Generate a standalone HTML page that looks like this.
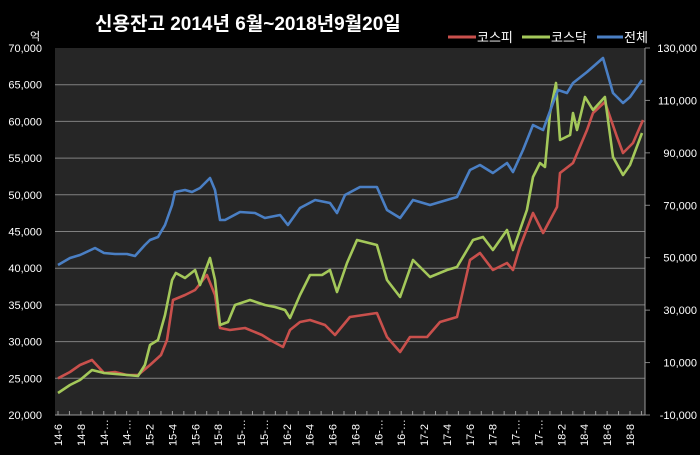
<!DOCTYPE html>
<html><head><meta charset="utf-8"><style>
body{margin:0;background:#000;}
svg text{font-family:"Liberation Sans","Noto Sans CJK KR",sans-serif;fill:#fff;}
</style></head><body>
<svg width="700" height="450" xmlns="http://www.w3.org/2000/svg">
<rect width="700" height="450" fill="#000"/>
<text x="95" y="30" font-size="19" font-weight="bold">신용잔고 2014년 6월~2018년9월20일</text>
<text x="30" y="40" font-size="11">억</text>
<g id="legend">
<g><line x1="448" y1="37" x2="476" y2="37" stroke="#c9504c" stroke-width="3"/><text x="477" y="42" font-size="13">코스피</text></g>
<g><line x1="522" y1="37" x2="550" y2="37" stroke="#a4c85a" stroke-width="3"/><text x="551" y="42" font-size="13">코스닥</text></g>
<g><line x1="597" y1="37" x2="623" y2="37" stroke="#4a7fc4" stroke-width="3"/><text x="624" y="42" font-size="13">전체</text></g>
</g>
<rect x="55" y="48" width="590" height="367" fill="#262626"/>
<g id="grid"></g><g id="axes"></g><g id="series"></g>
</svg>
<script>
const leftTicks=[20000,25000,30000,35000,40000,45000,50000,55000,60000,65000,70000];
const rightTicks=[-10000,10000,30000,50000,70000,90000,110000,130000];
const xLabels=["14-6","14-8","14-…","14-…","15-2","15-4","15-6","15-8","15-…","15-…","16-2","16-4","16-6","16-8","16-…","16-…","17-2","17-4","17-6","17-8","17-…","17-…","18-2","18-4","18-6","18-8"];
const kospiMonths=[0,1.05,1.92,2.97,4.02,4.98,6.03,6.99,8.04,9.0,9.53,10.05,11.1,11.98,13.02,13.72,14.16,15.03,16.35,17.83,18.53,19.67,20.28,21.15,22.03,23.34,24.21,25.52,27.88,28.76,29.9,30.77,32.26,33.39,34.88,36.01,36.89,38.02,39.25,39.77,40.38,41.52,42.4,43.62,43.88,45.02,46.24,46.77,47.81,48.86,49.39,50.26,51.14];
const kospiValues=[25000,25860,26810,27490,25720,25860,25450,25450,26810,28170,30220,35670,36350,37030,39070,36350,31850,31580,31850,30900,30220,29260,31580,32670,32940,32260,30900,33350,33900,30630,28580,30630,30630,32670,33350,41120,42070,39750,40710,39750,42890,47520,44800,48340,52970,54330,58830,61140,62640,57870,55690,57060,60190];
const kosdaqMonths=[0,1.05,1.92,2.97,4.02,6.03,6.99,7.6,8.04,8.74,9.35,9.97,10.31,11.1,11.98,12.41,13.29,13.72,14.16,14.86,15.47,16.78,18.09,18.97,19.84,20.28,21.15,22.03,23.08,23.78,24.39,25.26,26.14,27.88,28.76,29.9,31.03,32.52,34.0,34.88,36.28,37.15,38.02,39.25,39.77,40.99,41.52,42.13,42.57,43.01,43.53,43.88,44.76,45.02,45.37,46.07,46.77,47.81,48.51,49.39,50.0,51.05];
const kosdaqValues=[23000,24090,24770,26130,25720,25450,25310,26810,29540,30220,33620,38390,39350,38670,39750,37710,41390,38390,32260,32670,34990,35670,34990,34710,34300,33220,36350,39070,39070,39750,36760,40710,43840,43160,38390,36080,41120,38800,39750,40160,43840,44250,42480,45200,42480,47930,52430,54330,53790,61140,65230,57470,58150,61140,58830,63320,61550,63320,55150,52700,54060,58420];
const totalMonths=[0,1.05,1.92,3.23,4.02,4.98,6.03,6.73,7.6,8.04,8.74,9.35,9.97,10.23,11.1,11.71,12.41,13.29,13.72,14.16,14.6,15.91,17.22,18.09,19.41,20.1,21.15,22.47,23.78,24.39,25.09,26.4,27.88,28.76,29.9,31.03,32.52,34.88,36.01,36.89,38.02,39.25,39.77,40.65,41.52,42.4,43.27,43.71,44.49,45.02,46.24,47.64,48.51,49.39,50.0,51.05];
const totalValues=[47210,49880,51030,53700,51790,51410,51410,50650,54850,56750,57900,62470,70100,75060,75830,75060,76590,80400,75830,64380,64380,67430,67050,65140,66290,62470,68960,72010,70870,67050,73920,76970,76970,68200,65140,72010,70100,73160,83460,85360,82310,86130,82690,91080,100620,98720,109020,113980,112830,116650,120840,126190,112830,109020,111310,117790];

const NS="http://www.w3.org/2000/svg";
const X0=55,X1=645,Y0=48,Y1=415;
function xScale(m){return 58+m*11.44;}
function yLeft(v){return Y1-(v-20000)/50000*(Y1-Y0);}
function yRight(v){return Y1-(v+10000)/140000*(Y1-Y0);}
function mk(tag,attrs,parent){const e=document.createElementNS(NS,tag);for(const k in attrs)e.setAttribute(k,attrs[k]);parent.appendChild(e);return e;}
const grid=document.getElementById('grid'),axes=document.getElementById('axes'),series=document.getElementById('series');
leftTicks.forEach(v=>{const y=yLeft(v);
 if(v>20000&&v<70000){const g=mk('line',{x1:X0,x2:X1,y1:y,y2:y,stroke:'#808080','stroke-width':1},grid);
 
 }
 const t=mk('text',{x:42,y:y+4,'font-size':11,'text-anchor':'end'},axes);t.textContent=v.toLocaleString('en-US');
 
 });
rightTicks.forEach(v=>{const y=yRight(v);
 mk('line',{x1:X1,x2:X1+5,y1:y,y2:y,stroke:'#808080'},axes);
 const t=mk('text',{x:697,y:y+4,'font-size':11,'text-anchor':'end'},axes);t.textContent=v.toLocaleString('en-US');
 
 });
const ax=mk('line',{x1:X0,x2:X1,y1:Y1,y2:Y1,stroke:'#9a9a9a'},axes);


mk('line',{x1:X1,x2:X1,y1:Y0,y2:Y1,stroke:'#9a9a9a'},axes);
for(let m=0;m<=51;m++){mk('line',{x1:xScale(m),x2:xScale(m),y1:Y1,y2:Y1-4,stroke:'#9a9a9a'},axes);}
xLabels.forEach((l,i)=>{const x=xScale(i*2)+4;const y=446;
 const t=mk('text',{x:x,y:y,'font-size':11,transform:`rotate(-90 ${x} ${y})`},axes);t.textContent=l;
 
 });
function line(ms,vs,yf,color,name){const d=ms.map((m,i)=>(i?'L':'M')+xScale(m).toFixed(1)+' '+yf(vs[i]).toFixed(1)).join(' ');
 const p=mk('path',{d:d,fill:'none',stroke:color,'stroke-width':2.6,'stroke-linejoin':'round'},series);
 
 }
line(kospiMonths,kospiValues,yLeft,'#c9504c','kospi-line');
line(kosdaqMonths,kosdaqValues,yLeft,'#a4c85a','kosdaq-line');
line(totalMonths,totalValues,yRight,'#4a7fc4','total-line');
</script>
</body></html>
